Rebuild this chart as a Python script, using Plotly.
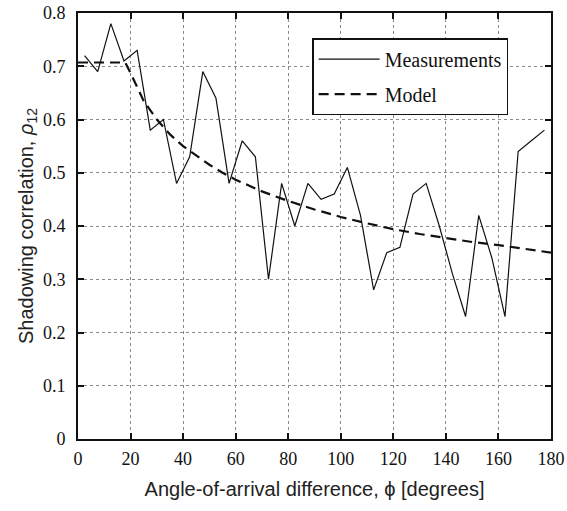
import plotly.graph_objects as go

# Measured shadowing correlation vs angle-of-arrival difference
angle_meas = [2.5, 7.5, 12.5, 17.5, 22.5, 27.5, 32.5, 37.5, 42.5, 47.5, 52.5, 57.5,
              62.5, 67.5, 72.5, 77.5, 82.5, 87.5, 92.5, 97.5, 102.5, 107.5, 112.5,
              117.5, 122.5, 127.5, 132.5, 137.5, 142.5, 147.5, 152.5, 157.5, 162.5,
              167.5, 172.5, 177.5]
rho_meas = [0.72, 0.69, 0.78, 0.71, 0.73, 0.58, 0.60, 0.48, 0.53, 0.69, 0.64, 0.48,
            0.56, 0.53, 0.30, 0.48, 0.40, 0.48, 0.45, 0.46, 0.51, 0.42, 0.28,
            0.35, 0.36, 0.46, 0.48, 0.40, 0.31, 0.23, 0.42, 0.34, 0.23,
            0.54, 0.56, 0.58]

# Model curve
angle_model = [0, 18, 20, 25, 30, 35, 40, 45, 50, 55, 60, 70, 80, 90, 100, 110,
               120, 130, 140, 150, 160, 170, 180]
rho_model = [0.707, 0.707, 0.687, 0.635, 0.600, 0.572, 0.550, 0.532, 0.515, 0.500,
             0.487, 0.465, 0.447, 0.431, 0.417, 0.405, 0.394, 0.385, 0.377, 0.370,
             0.364, 0.357, 0.350]

x_ticks = [0, 20, 40, 60, 80, 100, 120, 140, 160, 180]
y_ticks = [0, 0.1, 0.2, 0.3, 0.4, 0.5, 0.6, 0.7, 0.8]
y_tick_labels = ["0", "0.1", "0.2", "0.3", "0.4", "0.5", "0.6", "0.7", "0.8"]

serif = "Liberation Serif"
sans = "Liberation Sans"

fig = go.Figure()
fig.add_trace(go.Scatter(x=angle_meas, y=rho_meas, mode="lines", name="Measurements",
                         legendgroup="m",
                         line=dict(color="#111111", width=1.2)))
fig.add_trace(go.Scatter(x=angle_model, y=rho_model, mode="lines", name="Model",
                         legendgroup="d",
                         line=dict(color="#111111", width=2.2, dash="10px,6px")))

axis_common = dict(
    showline=True, linecolor="#111111", linewidth=2, mirror="ticks",
    ticks="inside", ticklen=6, tickwidth=1.5, tickcolor="#111111",
    showgrid=True, gridcolor="#8a8a8a", gridwidth=1, griddash="dot",
    zeroline=False, automargin=False, ticklabeloverflow="allow",
    tickfont=dict(family=serif, size=18, color="#111111"),
)

fig.update_xaxes(range=[0, 180], tickvals=x_ticks, ticktext=[str(v) for v in x_ticks],
                 ticklabelstandoff=2,
                 title=dict(text="Angle-of-arrival difference, \u03d5 [degrees]",
                            font=dict(family=sans, size=20, color="#222222"), standoff=14),
                 **axis_common)
fig.update_yaxes(range=[0, 0.8], tickvals=y_ticks, ticktext=y_tick_labels,
                 ticklabelstandoff=7,
                 title=dict(text="Shadowing correlation, <i>\u03c1</i><sub>12</sub>",
                            font=dict(family=sans, size=20, color="#222222"), standoff=4),
                 **axis_common)

fig.update_layout(
    width=567, height=511,
    margin=dict(l=78, r=16, t=13, b=72),
    paper_bgcolor="white", plot_bgcolor="white",
    showlegend=True,
    legend=dict(x=0.495, y=0.941, xanchor="left", yanchor="top",
                bgcolor="white", bordercolor="#111111", borderwidth=1.5,
                font=dict(family=serif, size=20, color="#111111"),
                itemwidth=61, tracegroupgap=6),
)

fig.write_html("out.html", config={"displayModeBar": False},
               post_script="document.body.style.margin='0';document.body.style.overflow='hidden';")
